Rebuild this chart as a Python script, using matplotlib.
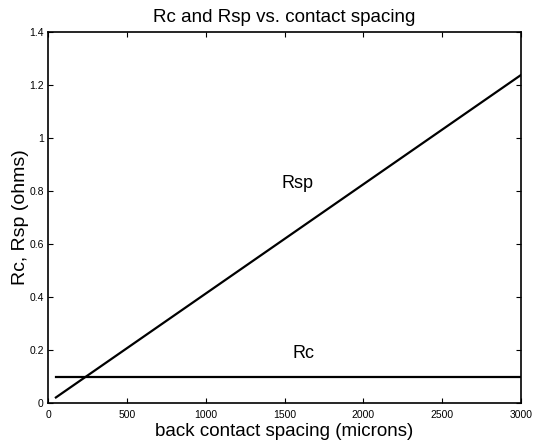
import matplotlib
matplotlib.use("Agg")
import matplotlib.pyplot as plt

# contact spacing in microns
spacing = [50, 3000]
rsp = [0.021, 1.238]
rc = [0.1, 0.1]

xticks = [0, 500, 1000, 1500, 2000, 2500, 3000]
yticks = [0, 0.2, 0.4, 0.6, 0.8, 1, 1.2, 1.4]

plt.rcParams['font.family'] = ['Liberation Sans', 'DejaVu Sans']

fig = plt.figure(figsize=(5.34, 4.41), dpi=100)
ax = fig.add_axes([0.0899, 0.0861, 0.8858, 0.8413])

ax.plot(spacing, rsp, color='black', lw=1.6)
ax.plot(spacing, rc, color='black', lw=1.6)

ax.text(1580, 0.83, 'Rsp', fontsize=13, ha='center', va='center')
ax.text(1620, 0.187, 'Rc', fontsize=13, ha='center', va='center')

ax.set_xlim(0, 3000)
ax.set_ylim(0, 1.4)
ax.set_xticks(xticks)
ax.set_xticklabels([str(t) for t in xticks])
ax.set_yticks(yticks)
ax.set_yticklabels(['0', '0.2', '0.4', '0.6', '0.8', '1', '1.2', '1.4'])
ax.tick_params(direction='in', top=True, right=True, labelsize=7.5,
               length=3.5, width=0.8)
ax.tick_params(axis='x', pad=5)
ax.tick_params(axis='y', pad=3)
for s in ax.spines.values():
    s.set_linewidth(1.2)

ax.set_title('Rc and Rsp vs. contact spacing', fontsize=13.5, pad=7)
ax.set_xlabel('back contact spacing (microns)', fontsize=13.5, labelpad=2)
ax.set_ylabel('Rc, Rsp (ohms)', fontsize=14, labelpad=0.5)

fig.savefig('out.png', dpi=100)
